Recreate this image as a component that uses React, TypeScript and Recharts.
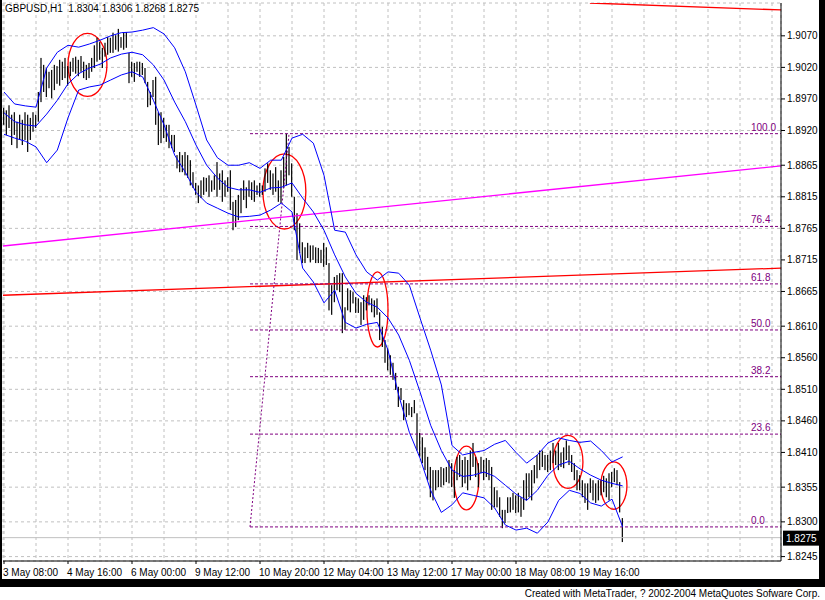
import React from "react";
import {
  ComposedChart,
  Bar,
  Line,
  XAxis,
  YAxis,
  CartesianGrid,
  ReferenceLine,
  ReferenceArea,
} from "recharts";

// GBPUSD H1, one entry per bar (high / low)
const highs = [
  1.8956, 1.8952, 1.896, 1.8945, 1.8949, 1.8934, 1.8945, 1.8937, 1.8949, 1.8945,
  1.894, 1.8949, 1.8945, 1.8981, 1.9035, 1.9024, 1.9019, 1.9013, 1.9016, 1.9024,
  1.9022, 1.9032, 1.9029, 1.9035, 1.9022, 1.9029, 1.9035, 1.9037, 1.9032, 1.9038,
  1.9029, 1.9024, 1.9027, 1.9035, 1.9055, 1.9067, 1.906, 1.9051, 1.9059, 1.9068,
  1.9067, 1.9075, 1.9071, 1.9081, 1.9068, 1.9075, 1.9076, 1.9043, 1.9029, 1.9027,
  1.9029, 1.9029, 1.9027, 1.9019, 1.8997, 1.8981, 1.9, 1.9005, 1.8949, 1.8949,
  1.894, 1.8929, 1.8929, 1.8913, 1.8913, 1.8881, 1.8886, 1.8881, 1.8886, 1.8881,
  1.8873, 1.8854, 1.8837, 1.8833, 1.8841, 1.8846, 1.8845, 1.8849, 1.8841, 1.8849,
  1.887, 1.8852, 1.8857, 1.8841, 1.8846, 1.8857, 1.8807, 1.881, 1.8818, 1.8829,
  1.8841, 1.883, 1.8841, 1.8838, 1.8841, 1.8833, 1.8837, 1.8833, 1.886, 1.8868,
  1.8857, 1.8852, 1.8862, 1.8841, 1.8857, 1.8878, 1.8915, 1.8894, 1.8868, 1.8815,
  1.8789, 1.8773, 1.8743, 1.8735, 1.8742, 1.8738, 1.8738, 1.8735, 1.8734, 1.8731,
  1.8742, 1.8735, 1.871, 1.8675, 1.8688, 1.8691, 1.8694, 1.8694, 1.864, 1.867,
  1.8667, 1.8664, 1.8656, 1.8654, 1.8648, 1.8659, 1.8656, 1.8659, 1.8654, 1.8651,
  1.8654, 1.8632, 1.8609, 1.8588, 1.8575, 1.8564, 1.8552, 1.8536, 1.8514, 1.8512,
  1.8493, 1.8488, 1.8488, 1.8482, 1.8493, 1.8472, 1.8441, 1.8434, 1.8418, 1.8403,
  1.8387, 1.8382, 1.8382, 1.8382, 1.8387, 1.8385, 1.8387, 1.8398, 1.8393, 1.8382,
  1.8403, 1.8406, 1.8398, 1.8403, 1.8398, 1.8413, 1.8425, 1.8403, 1.8393, 1.8403,
  1.8398, 1.8401, 1.8398, 1.8387, 1.8355, 1.835, 1.8339, 1.8319, 1.8319, 1.8339,
  1.8339, 1.8346, 1.8342, 1.8346, 1.8339, 1.8366, 1.8377, 1.8377, 1.8382, 1.839,
  1.8406, 1.8413, 1.8413, 1.8406, 1.8406, 1.8413, 1.8425, 1.8413, 1.8425, 1.841,
  1.8418, 1.8429, 1.8421, 1.8406, 1.8393, 1.8382, 1.8374, 1.8366, 1.8361, 1.8361,
  1.8369, 1.8366, 1.8361, 1.8366, 1.8366, 1.8373, 1.8369, 1.8377, 1.8379, 1.8385,
  1.8382, 1.8363, 1.8306,
];

const lows = [
  1.8929, 1.8913, 1.8924, 1.8897, 1.8913, 1.8892, 1.8905, 1.8897, 1.8905, 1.8886,
  1.8905, 1.8918, 1.8924, 1.8934, 1.8965, 1.8981, 1.8973, 1.8987, 1.8971, 1.8984,
  1.8994, 1.8991, 1.9, 1.9003, 1.8991, 1.9006, 1.9013, 1.901, 1.9006, 1.9013,
  1.9003, 1.9, 1.9003, 1.9013, 1.9019, 1.9029, 1.9032, 1.9019, 1.9037, 1.904,
  1.9043, 1.9043, 1.9048, 1.9045, 1.9051, 1.9048, 1.9051, 1.8995, 1.9005, 1.8997,
  1.9013, 1.9005, 1.9008, 1.8995, 1.8957, 1.896, 1.8973, 1.8929, 1.8897, 1.89,
  1.8908, 1.8902, 1.8892, 1.8892, 1.8886, 1.886, 1.8854, 1.8854, 1.8849, 1.8845,
  1.8833, 1.8829, 1.8818, 1.8805, 1.8813, 1.8818, 1.8823, 1.8815, 1.8823, 1.8826,
  1.8815, 1.8826, 1.8807, 1.8815, 1.8823, 1.8794, 1.8762, 1.8767, 1.8778, 1.8789,
  1.881, 1.8797, 1.8815, 1.881, 1.8807, 1.8818, 1.8815, 1.8818, 1.8823, 1.8837,
  1.8826, 1.8818, 1.8823, 1.8807, 1.8805, 1.8829, 1.8833, 1.8849, 1.8815, 1.8762,
  1.8715, 1.8726, 1.871, 1.871, 1.8718, 1.8711, 1.8715, 1.871, 1.871, 1.871,
  1.8704, 1.8707, 1.8635, 1.8628, 1.8648, 1.8667, 1.8664, 1.8599, 1.8604, 1.8635,
  1.8632, 1.8646, 1.8631, 1.8631, 1.8612, 1.862, 1.8635, 1.8643, 1.8632, 1.8624,
  1.8628, 1.8588, 1.8577, 1.8552, 1.854, 1.8533, 1.8525, 1.8509, 1.8482, 1.8493,
  1.8461, 1.8466, 1.8469, 1.8466, 1.8472, 1.8413, 1.8403, 1.8393, 1.8382, 1.8366,
  1.8339, 1.8334, 1.835, 1.8355, 1.8355, 1.8358, 1.8363, 1.8361, 1.8355, 1.8338,
  1.8366, 1.8371, 1.8355, 1.8361, 1.835, 1.8366, 1.8387, 1.8371, 1.8355, 1.8377,
  1.8366, 1.8371, 1.8366, 1.8319, 1.8323, 1.8323, 1.8308, 1.829, 1.8298, 1.8314,
  1.8315, 1.8319, 1.8314, 1.8315, 1.8308, 1.8319, 1.8334, 1.8339, 1.8334, 1.8361,
  1.8369, 1.8382, 1.8387, 1.8382, 1.8379, 1.8382, 1.8393, 1.839, 1.8382, 1.8387,
  1.8385, 1.8398, 1.839, 1.8379, 1.8366, 1.835, 1.835, 1.8339, 1.833, 1.8319,
  1.8346, 1.8334, 1.833, 1.8334, 1.8342, 1.8347, 1.8339, 1.8334, 1.8355, 1.8363,
  1.8358, 1.8315, 1.8268,
];

// Bollinger bands, read every 4th bar
const bandIdx = [
  0, 4, 8, 12, 16, 20, 24, 28, 32, 36, 40, 44, 48, 52, 56, 60, 64, 68, 72, 76,
  80, 84, 88, 92, 96, 100, 104, 108, 112, 116, 120, 124, 128, 132, 136, 140, 144,
  148, 152, 156, 160, 164, 168, 172, 176, 180, 184, 188, 192, 196, 200, 204, 208,
  212, 216, 220, 224, 228, 232,
];
const upperBand = [
  1.8981, 1.8962, 1.8959, 1.8957, 1.9019, 1.9044, 1.9055, 1.9052, 1.9057, 1.9063,
  1.907, 1.9075, 1.9076, 1.9079, 1.9083, 1.9073, 1.9051, 1.9013, 1.896, 1.8905,
  1.8877, 1.8865, 1.8865, 1.8869, 1.886, 1.8873, 1.8873, 1.8908, 1.8914, 1.89,
  1.8849, 1.8762, 1.8759, 1.8723, 1.8696, 1.8683, 1.8696, 1.8694, 1.8675, 1.8623,
  1.8572, 1.8517, 1.8421, 1.8406, 1.841, 1.8413, 1.8423, 1.8429, 1.841, 1.8393,
  1.8406, 1.8425, 1.8433, 1.8429, 1.8426, 1.8428, 1.8413, 1.8395, 1.8403,
];
const middleBand = [
  1.8948, 1.8934, 1.8929, 1.8927, 1.8946, 1.8968, 1.8994, 1.901, 1.9019, 1.9025,
  1.9035, 1.9041, 1.9044, 1.904, 1.9024, 1.9, 1.8965, 1.8934, 1.8897, 1.8865,
  1.8845, 1.883, 1.8826, 1.8826, 1.8822, 1.8829, 1.883, 1.8837, 1.8813, 1.8791,
  1.8762, 1.8723, 1.8688, 1.8662, 1.8648, 1.864, 1.8623, 1.8596, 1.8556, 1.8506,
  1.8453, 1.8413, 1.8382, 1.8372, 1.8374, 1.8379, 1.8372, 1.8358, 1.8344, 1.8334,
  1.835, 1.8374, 1.839, 1.8396, 1.8384, 1.8374, 1.8366, 1.8361, 1.8357,
];
const lowerBand = [
  1.8914, 1.8908, 1.8903, 1.8894, 1.8869, 1.8889, 1.894, 1.8984, 1.8989, 1.8992,
  1.9, 1.9008, 1.9013, 1.9005, 1.8968, 1.8929, 1.8881, 1.8854, 1.8822, 1.8805,
  1.8797, 1.8789, 1.8783, 1.8784, 1.8786, 1.8794, 1.8805, 1.8791, 1.8702, 1.868,
  1.8647, 1.8667, 1.8616, 1.8607, 1.8613, 1.8616, 1.8572, 1.8501, 1.8442, 1.8401,
  1.835, 1.8315, 1.8327, 1.8346, 1.8342, 1.8338, 1.8322, 1.8295, 1.8287, 1.829,
  1.8282, 1.83, 1.8334, 1.835, 1.8345, 1.833, 1.8325, 1.8336, 1.8292,
];

const gridIdx = [0, 12, 24, 36, 48, 60, 72, 84, 96, 108, 120, 132, 144, 156, 168, 180, 192, 204, 216, 228, 240, 252, 264, 276, 288];
const timeLabelIdx = [0, 24, 48, 72, 96, 120, 144, 168, 192, 216];
const timeLabels = [
  "3 May 08:00", "4 May 16:00", "6 May 00:00", "9 May 12:00", "10 May 20:00",
  "12 May 04:00", "13 May 12:00", "17 May 00:00", "18 May 08:00", "19 May 16:00",
];
const priceTicks = [
  1.907, 1.902, 1.897, 1.892, 1.8865, 1.8815, 1.8765, 1.8715, 1.8665, 1.861,
  1.856, 1.851, 1.846, 1.841, 1.8355, 1.83, 1.8245,
];

const fibLabels = ["0.0", "23.6", "38.2", "50.0", "61.8", "76.4", "100.0"];
const fibPrices = [1.8292, 1.8439, 1.853, 1.8604, 1.8677, 1.8768, 1.8915];
const fibFrom = 92.25;
const fibBase = [[92.25, 1.8292], [106.9, 1.8915]];

const magentaTrend = [[-0.375, 1.8737], [291.375, 1.8864]];
const redTrend = [[-0.375, 1.8659], [291.375, 1.8702]];
const redTopTrend = [[219.7, 1.9122], [291.375, 1.9111]];

// x1, x2 (bars), top, bottom (price)
const circles = [
  [24, 38.6, 1.9074, 1.8974],
  [97.1, 113.2, 1.8883, 1.8764],
  [136.1, 144, 1.8696, 1.8577],
  [168.7, 178.1, 1.842, 1.8319],
  [205.9, 217.1, 1.8437, 1.8353],
  [223.8, 233.6, 1.8395, 1.832],
];

const symbol = "GBPUSD,H1";
const lastQuote = ["1.8304", "1.8306", "1.8268", "1.8275"];
const bid = 1.8275;

const FONT = "Tahoma, 'Liberation Sans', Arial, sans-serif";
const FIB = "#800080";

const rows = highs.map((h, i) => {
  const k = bandIdx.indexOf(i);
  return {
    i,
    range: [lows[i], h],
    upper: k >= 0 ? upperBand[k] : null,
    middle: k >= 0 ? middleBand[k] : null,
    lower: k >= 0 ? lowerBand[k] : null,
  };
});

const HLBar = (p: any) => {
  const { x, y, width, height } = p;
  if (x == null || height == null) return null;
  const cx = x + width / 2;
  return <rect x={cx - 0.6} y={y} width={1.2} height={Math.max(height, 1)} fill="#000" />;
};

const Ellipse = (p: any) => {
  const { x, y, width, height } = p;
  return (
    <ellipse
      cx={x + width / 2}
      cy={y + height / 2}
      rx={Math.abs(width) / 2}
      ry={Math.abs(height) / 2}
      fill="none"
      stroke="#ff0000"
      strokeWidth={1.3}
    />
  );
};

const TimeTick = (p: any) => {
  const k = timeLabelIdx.indexOf(p.payload.value);
  if (k < 0) return null;
  return (
    <g>
      <line x1={p.x} x2={p.x} y1={p.y} y2={p.y + 3} stroke="#000" />
      <text x={p.x - 1} y={p.y + 15} fontSize={10} fontFamily={FONT} fill="#000">
        {timeLabels[k]}
      </text>
    </g>
  );
};

export default function App() {
  return (
    <div style={{ position: "absolute", left: 0, top: 0, width: 825, height: 600, background: "#fff", fontFamily: FONT }}>
      <ComposedChart width={825} height={600} data={rows} margin={{ top: 3, right: 6, bottom: 21, left: 3 }}>
        <CartesianGrid stroke="#c0c0c0" strokeDasharray="3 3" />
        <XAxis
          dataKey="i"
          type="number"
          domain={[-0.375, 291.375]}
          allowDataOverflow
          ticks={gridIdx}
          interval={0}
          height={18}
          tickSize={0}
          tickMargin={0}
          tickLine={false}
          axisLine={{ stroke: "#000" }}
          tick={<TimeTick />}
        />
        <YAxis
          orientation="right"
          type="number"
          domain={[1.8238, 1.9122]}
          allowDataOverflow
          ticks={priceTicks}
          interval={0}
          width={38}
          tickSize={4}
          tickMargin={2}
          axisLine={{ stroke: "#000" }}
          tickLine={{ stroke: "#000" }}
          tick={{ fontSize: 10, fill: "#000", fontFamily: FONT }}
          tickFormatter={(v: number) => v.toFixed(4)}
        />
        <ReferenceLine y={bid} stroke="#c0c0c0" ifOverflow="hidden"
          label={{
            content: (p: any) => {
              const vb = p.viewBox || {};
              const right = vb.x + vb.width;
              return (
                <g>
                  <rect x={right + 2} y={vb.y - 7} width={36} height={15} fill="#000" />
                  <text x={right + 5} y={vb.y + 4} fontSize={10} fontFamily={FONT} fill="#fff">
                    {bid.toFixed(4)}
                  </text>
                </g>
              );
            },
          }}
        />
        <ReferenceLine
          segment={[{ x: magentaTrend[0][0], y: magentaTrend[0][1] }, { x: magentaTrend[1][0], y: magentaTrend[1][1] }]}
          stroke="#ff00ff" strokeWidth={1.3} ifOverflow="hidden"
        />
        <ReferenceLine
          segment={[{ x: redTrend[0][0], y: redTrend[0][1] }, { x: redTrend[1][0], y: redTrend[1][1] }]}
          stroke="#ff0000" strokeWidth={1.3} ifOverflow="hidden"
        />
        <ReferenceLine
          segment={[{ x: redTopTrend[0][0], y: redTopTrend[0][1] }, { x: redTopTrend[1][0], y: redTopTrend[1][1] }]}
          stroke="#ff0000" strokeWidth={1.3} ifOverflow="hidden"
        />
        {fibPrices.map((p, k) => (
          <ReferenceLine
            key={fibLabels[k]}
            segment={[{ x: fibFrom, y: p }, { x: 291.375, y: p }]}
            stroke={FIB}
            strokeDasharray="3 2"
            ifOverflow="hidden"
            label={{
              content: (lp: any) => {
                const vb = lp.viewBox || {};
                return (
                  <text x={vb.x + vb.width - 30} y={vb.y - 3} fontSize={10} fontFamily={FONT} fill={FIB}>
                    {fibLabels[k]}
                  </text>
                );
              },
            }}
          />
        ))}
        <ReferenceLine
          segment={[{ x: fibBase[0][0], y: fibBase[0][1] }, { x: fibBase[1][0], y: fibBase[1][1] }]}
          stroke={FIB} strokeDasharray="2 2" ifOverflow="hidden"
        />
        <Bar dataKey="range" barSize={2} shape={HLBar} isAnimationActive={false} />
        <Line dataKey="upper" type="linear" stroke="#0000ff" dot={false} connectNulls isAnimationActive={false} />
        <Line dataKey="middle" type="linear" stroke="#0000ff" dot={false} connectNulls isAnimationActive={false} />
        <Line dataKey="lower" type="linear" stroke="#0000ff" dot={false} connectNulls isAnimationActive={false} />
        {circles.map((c, k) => (
          <ReferenceArea key={k} x1={c[0]} x2={c[1]} y1={c[3]} y2={c[2]} shape={Ellipse} ifOverflow="visible" />
        ))}
      </ComposedChart>
      <div style={{ position: "absolute", left: 5, top: 3, fontSize: 10, color: "#000", whiteSpace: "pre" }}>
        {symbol + "  " + lastQuote.join(" ")}
      </div>
      <div style={{ position: "absolute", left: 0, top: 0, width: 2, height: 587, background: "#000" }} />
      <div style={{ position: "absolute", left: 819, top: 0, width: 6, height: 587, background: "#000" }} />
      <div style={{ position: "absolute", left: 0, top: 579, width: 825, height: 8, background: "#000" }} />
      <div style={{ position: "absolute", right: 5, top: 588, fontSize: 10, color: "#000", whiteSpace: "pre" }}>
        Created with MetaTrader, ? 2002-2004 MetaQuotes Sofware Corp.
      </div>
    </div>
  );
}
